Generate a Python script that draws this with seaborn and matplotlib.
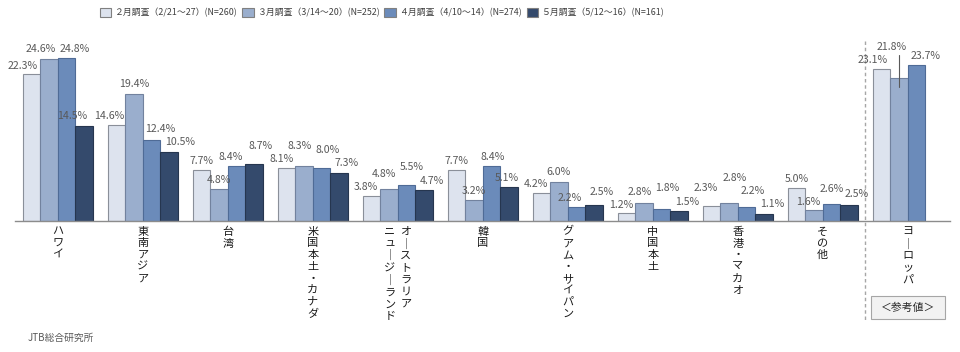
import numpy as np
import pandas as pd
import matplotlib
matplotlib.use("Agg")
import matplotlib.pyplot as plt
import matplotlib.transforms as mtransforms
from matplotlib.patches import Rectangle
from matplotlib import font_manager
import seaborn as sns

# ---------------- data ----------------
regions = ["ハワイ", "東南アジア", "台湾", "米国本土・カナダ", "オーストラリア・ニュージーランド",
           "韓国", "グアム・サイパン", "中国本土", "香港・マカオ", "その他", "ヨーロッパ"]
surveys = ["２月調査（2/21～27）(N=260)", "３月調査（3/14～20）(N=252)",
           "４月調査（4/10～14）(N=274)", "５月調査（5/12～16）(N=161)"]
feb = [22.3, 14.6, 7.7, 8.1, 3.8, 7.7, 4.2, 1.2, 2.3, 5.0, 23.1]
mar = [24.6, 19.4, 4.8, 8.3, 4.8, 3.2, 6.0, 2.8, 2.8, 1.6, 21.8]
apr = [24.8, 12.4, 8.4, 8.0, 5.5, 8.4, 2.2, 1.8, 2.2, 2.6, 23.7]
may = [14.5, 10.5, 8.7, 7.3, 4.7, 5.1, 2.5, 1.5, 1.1, 2.5, np.nan]
# display labels (vertical writing); one region uses two columns (right, left)
display_cols = [["ハワイ"], ["東南アジア"], ["台湾"], ["米国本土・カナダ"],
                ["オーストラリア", "ニュージーランド"], ["韓国"], ["グアム・サイパン"],
                ["中国本土"], ["香港・マカオ"], ["その他"], ["ヨーロッパ"]]
reference_note = "＜参考値＞"
source = "JTB総合研究所"

# ---------------- style ----------------
colors = ["#dde3ee", "#9aaecd", "#6b8bba", "#344a6c"]
edges = ["#8a8f99", "#72829e", "#4f6b96", "#26364f"]
label_color = "#595959"

# label nudges in pixels (dx, dy above bar top) per series
off_feb = [(-8.6, 8.8), (-7.1, 9.1), (0, 9.4), (-5.1, 8.8), (-5.6, 9), (0.3, 9.4),
           (-5.6, 9.4), (-4.7, 8.4), (-5.4, 17.9), (0.6, 9.5), (-8.4, 9.2)]
off_mar = [(-8, 10.1), (0.7, 9.2), (0, 9.5), (-4.5, 20.5), (-5.2, 15.5), (0, 9),
           (0, 9.9), (-4.5, 10.9), (5.5, 24.9), (-6, 8.5), (-7, 30.5)]
off_apr = [(8.4, 8.8), (8.7, 10.2), (-5.6, 8.5), (6.1, 18.4), (5.1, 18.2), (1.4, 8.8),
           (-6.8, 8.8), (5.4, 21.2), (5.9, 15.5), (0.4, 15.2), (9.4, 9.6)]
off_may = [(-12.5, 9.7), (10.8, 9.7), (6.8, 17.8), (7.8, 9.7), (7.8, 9.1), (-2.5, 9.5),
           (7.5, 12.9), (7.8, 9.1), (7.8, 9.8), (7.8, 10.3), (0, 9)]
offsets = [off_feb, off_mar, off_apr, off_may]

sns.set_theme(style="white")
plt.rcParams["font.family"] = ["Noto Sans CJK JP", "DejaVu Sans"]

installed = {f.name for f in font_manager.fontManager.ttflist}
legend_family = (["Liberation Sans Narrow", "Noto Sans CJK JP"]
                 if "Liberation Sans Narrow" in installed else ["Noto Sans CJK JP"])

rows = []
for s, vals in zip(surveys, [feb, mar, apr, may]):
    for r, v in zip(regions, vals):
        rows.append({"region": r, "survey": s, "value": v})
df = pd.DataFrame(rows).dropna()

W, H = 960, 352
fig = plt.figure(figsize=(9.6, 3.52), dpi=100)
ymax = 28
ax = fig.add_axes([15.3 / W, (H - 221) / H, 935 / W, 184 / H])

sns.barplot(data=df, x="region", y="value", hue="survey", order=regions,
            hue_order=surveys, palette=colors, saturation=1, width=0.83, gap=0,
            linewidth=0.8, edgecolor="#808080", errorbar=None, ax=ax)

for h, cont in enumerate(ax.containers):
    for bar in cont:
        bar.set_edgecolor(edges[h])

ax.set_xlim(-0.5, len(regions) - 0.5)
ax.set_ylim(0, ymax)
for sp in ["top", "left", "right"]:
    ax.spines[sp].set_visible(False)
ax.spines["bottom"].set_color("#8c8c8c")
ax.spines["bottom"].set_linewidth(1.0)
ax.set_yticks([])
ax.set_xticks(range(len(regions)))
ax.set_xticklabels([])
ax.tick_params(axis="x", length=0)
ax.set_xlabel("")
ax.set_ylabel("")

px_per_unit = 184 / ymax
pt = 72 / 100

# value labels
for h, cont in enumerate(ax.containers):
    for bar in cont:
        v = bar.get_height()
        if np.isnan(v):
            continue
        cx = bar.get_x() + bar.get_width() / 2
        g = int(round(cx))
        dx, dy = offsets[h][g]
        ax.annotate(f"{v:.1f}%", xy=(cx, v), xytext=(dx * pt, dy * pt),
                    textcoords="offset points", ha="center", va="center",
                    fontsize=7.6, color=label_color, annotation_clip=False)
        if h == 1 and g == len(regions) - 1:
            ax.plot([cx, cx], [v + 22.8 / px_per_unit, v - 8.9 / px_per_unit],
                    color="#595959", lw=0.8, zorder=5)

# vertical category labels
blend = mtransforms.blended_transform_factory(ax.transData, fig.transFigure)
def vert(s):
    return "\n".join("｜" if c == "ー" else c for c in s)

y_top = 1 - 226.5 / H
for g, cols in enumerate(display_cols):
    n = len(cols)
    for k, col in enumerate(cols):
        # right-to-left columns
        shift = ((n - 1) / 2 - k) * 16 / 85
        ax.text(g + shift, y_top, vert(col), transform=blend, ha="center", va="top",
                fontsize=8, color="#1a1a1a", linespacing=1.22, clip_on=False)

# separator for reference values
ax.plot([9.5, 9.5], [1 - 41 / H, 1 - 320 / H], transform=blend, clip_on=False,
        color="#a6a6a6", lw=1.0, ls=(0, (2.5, 2)))

# reference box
box = Rectangle((871 / W, 1 - 319 / H), 74 / W, 23 / H, transform=fig.transFigure,
                facecolor="#f2f2f2", edgecolor="#a6a6a6", lw=0.8, zorder=-1)
fig.patches.append(box)
fig.text(908 / W, 1 - 307.5 / H, reference_note, ha="center", va="center",
         fontsize=7.8, color="#262626", zorder=5)

fig.text(28 / W, 1 - 338 / H, source, fontsize=7, color=label_color, va="center")

sns.move_legend(ax, "center", bbox_to_anchor=(382 / W, 1 - 12.5 / H),
                bbox_transform=fig.transFigure, ncol=4, frameon=False, title=None,
                prop={"family": legend_family, "size": 6.4},
                handlelength=1.3, handleheight=1.3, handletextpad=0.35,
                columnspacing=0.55, borderaxespad=0, borderpad=0)
for t in ax.get_legend().get_texts():
    t.set_color("#404040")

fig.savefig("out.png", dpi=100)
